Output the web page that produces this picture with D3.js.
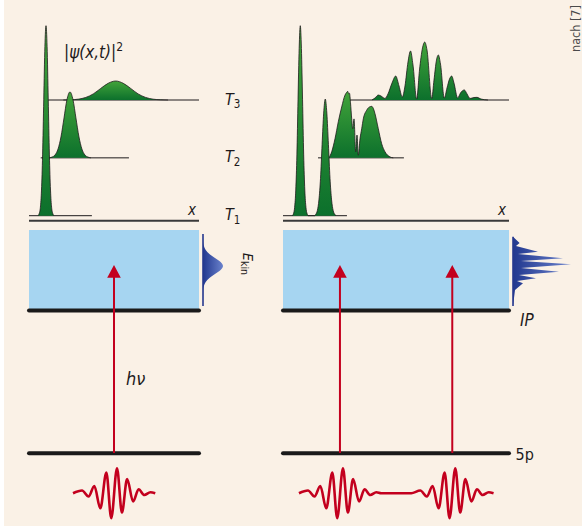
<!DOCTYPE html>
<html><head><meta charset="utf-8">
<script src="https://cdn.jsdelivr.net/npm/d3@7"></script>
<style>body{margin:0;background:#fff}svg{display:block}</style>
</head><body><svg id="c" width="582" height="528"></svg>
<script>
// ---------------- DATA ----------------
const timeSteps = ["T1", "T2", "T3"];
// wave packets |psi(x,t)|^2 : [position (a.u., 0..100 across panel), probability (a.u.)]
const leftT1 = [[5.3,0],[6.0,0.011],[6.7,0.044],[7.35,0.135],[8.0,0.32],[8.68,0.61],[9.35,0.89],[10,1],[10.65,0.89],[11.32,0.61],[12.0,0.32],[12.65,0.135],[13.3,0.044],[14.0,0.011],[14.7,0]];
const leftT2 = [[11.8,0],[13.5,0.004],[15.3,0.015],[17.1,0.047],[18.8,0.11],[20.6,0.21],[22.3,0.305],[24.1,0.347],[25.9,0.305],[27.6,0.21],[29.4,0.11],[31.1,0.047],[32.9,0.015],[34.7,0.004],[36.4,0]];
const leftT3 = [[20.2,0],[24.6,0.0011],[29,0.0044],[33.4,0.0135],[37.8,0.032],[42.2,0.061],[46.6,0.088],[51,0.1],[55.4,0.088],[59.8,0.061],[64.2,0.032],[68.6,0.0135],[73,0.0044],[77.4,0.0011],[81.8,0]];
const rightT1 = [[4.1,0],[4.65,0.011],[5.15,0.044],[5.65,0.135],[6.15,0.32],[6.65,0.61],[7.15,0.88],[7.65,1],[8.15,0.88],[8.65,0.61],[9.15,0.32],[9.65,0.135],[10.15,0.044],[10.65,0.011],[11.2,0],
  [14.0,0],[14.5,0.007],[15.2,0.027],[15.9,0.083],[16.6,0.196],[17.3,0.375],[18.0,0.54],[18.7,0.614],[19.4,0.54],[20.1,0.375],[20.8,0.196],[21.5,0.083],[22.2,0.027],[22.9,0.007],[23.4,0]];
const rightT2 = [[20.35,0],[21.55,0.032],[23.0,0.1],[24.47,0.19],[25.97,0.268],[27.43,0.33],[28.19,0.345],[28.63,0.35],[29.07,0.337],[29.42,0.34],[29.87,0.29],[30.4,0.205],[30.84,0.153],[31.42,0.205],[32.17,0.032],[32.74,0.12],[33.32,0.014],[34.07,0.1],[34.82,0.153],[35.53,0.205],[37.04,0.251],[38.27,0.268],[39.25,0.271],[40.04,0.258],[40.71,0.232],[42.17,0.153],[43.67,0.074],[45.13,0.032],[47.35,0.005],[48.8,0]];
const rightT3 = [[39.38,0],[40.71,0.0105],[42.17,0.026],[43.36,0.021],[45.13,0.008],[46.46,0.032],[48.23,0.089],[49.87,0.126],[51.33,0.074],[52.79,0.016],[53.98,0.074],[55.31,0.2],[56.42,0.258],[57.52,0.184],[59.16,0.005],[60.4,0.158],[61.73,0.274],[62.7,0.305],[63.72,0.263],[65.8,0.008],[66.81,0.105],[67.92,0.21],[68.72,0.237],[69.69,0.189],[71.37,0.0105],[72.57,0.063],[73.67,0.11],[74.65,0.126],[75.66,0.089],[77.3,0.0105],[78.54,0.037],[80.22,0.053],[81.42,0.032],[82.74,0.008],[84.51,0.013],[85.84,0.014],[87.61,0.005],[90.71,0]];
// extent of each time-step baseline [from, to] (a.u.)
const leftBaselines = [[0,37],[6.9,58.8],[11.2,100]];
const rightBaselines = [[0,28.3],[15.5,53.5],[29.65,100]];
// photoelectron spectra: [energy (a.u.), intensity (a.u.)]
const ekinSpectrum = [[9.375,0],[8.375,0.01],[7.875,0.045],[7.375,0.135],[6.875,0.32],[6.375,0.6],[5.875,0.88],[5.375,1],[4.875,0.88],[4.375,0.6],[3.875,0.32],[3.375,0.135],[2.875,0.045],[2.375,0.01],[0.375,0]];
const ipSpectrum = [[9.04,0],[8.25,0.33],[7.875,0.15],[7.16,1.25],[6.875,0.25],[6.34,2.5],[6.0,0.4],[5.59,2.9],[5.125,0.4],[4.66,2.3],[4.25,0.3],[3.84,1.15],[3.5,0.2],[3.21,0.5],[2.375,0.1],[0.375,0]];
// laser pulse: extrema [time (fs), field (a.u.)]
const pulseShape = [[-15,0],[-11.7,0.11],[-9.3,-0.13],[-7.2,0.29],[-5.0,-0.6],[-2.8,0.83],[-1.0,-1],[1.1,1],[2.9,-0.77],[4.8,0.57],[7.0,-0.33],[9.0,0.16],[11.1,-0.07],[13.3,0.04],[15.1,0]];
// transitions (position a.u.)
const leftTransitions = [50];
const rightTransitions = [25.2, 74.9];

// ---------------- DRAWING ----------------
const svg = d3.select("#c");
const FONT = "'Liberation Sans Narrow','DejaVu Sans Condensed','Roboto Condensed','Arial Narrow',sans-serif";
const RED = "#c3001e", INK = "#1e1b1c";
svg.append("rect").attr("x",4).attr("y",0).attr("width",578).attr("height",526).attr("fill","#faf1e6");

const defs = svg.append("defs");
const gg = defs.append("linearGradient").attr("id","green").attr("x1",0).attr("y1",0).attr("x2",0).attr("y2",1);
gg.append("stop").attr("offset","0%").attr("stop-color","#42a43a");
gg.append("stop").attr("offset","100%").attr("stop-color","#0c702c");
const bg = defs.append("linearGradient").attr("id","blue").attr("x1",0).attr("y1",0).attr("x2",1).attr("y2",0);
bg.append("stop").attr("offset","0%").attr("stop-color","#22388f");
bg.append("stop").attr("offset","100%").attr("stop-color","#6a82cc");

const rowY = d3.scalePoint().domain(timeSteps).range([215.7, 100]);
const amp = d3.scaleLinear().domain([0,1]).range([0,190]);
const eS = d3.scaleLinear().domain([0,10]).range([309,229]);
const specAmp = d3.scaleLinear().domain([0,1]).range([0,20]);
const fieldS = d3.scaleLinear().domain([-1,1]).range([25,-25]);

const panels = [
  {range:[29,199], packets:[leftT1,leftT2,leftT3], baselines:leftBaselines, spectrum:ekinSpectrum, specCurve:d3.curveMonotoneY, transitions:leftTransitions},
  {range:[283,509], packets:[rightT1,rightT2,rightT3], baselines:rightBaselines, spectrum:ipSpectrum, specCurve:d3.curveLinear, transitions:rightTransitions}
];

panels.forEach(p => {
  const x = d3.scaleLinear().domain([0,100]).range(p.range);
  const [x0, x1] = p.range;
  // continuum
  svg.append("rect").attr("x",x0).attr("y",230).attr("width",x1-x0).attr("height",79).attr("fill","#a6d5f1");
  // levels
  [310.6, 453.3].forEach(yy => svg.append("line").attr("x1",x0).attr("x2",x1).attr("y1",yy).attr("y2",yy)
     .attr("stroke","#1a1a1a").attr("stroke-width",4).attr("stroke-linecap","round"));
  // axis line
  svg.append("line").attr("x1",x0).attr("x2",x1).attr("y1",220.8).attr("y2",220.8).attr("stroke","#3a3a3a").attr("stroke-width",2);
  // spectrum
  const sx = x1 + 4;
  const sArea = d3.area().curve(p.specCurve).y(d=>eS(d[0])).x0(sx).x1(d=>sx+specAmp(d[1]));
  svg.append("path").attr("d", sArea(p.spectrum)).attr("fill","url(#blue)");
  svg.append("line").attr("x1",sx).attr("x2",sx).attr("y1",eS(p.spectrum[0][0])).attr("y2",eS(p.spectrum[p.spectrum.length-1][0]))
     .attr("stroke","#26398f").attr("stroke-width",1.6);
  // transitions (arrows)
  p.transitions.forEach(t => {
    const ax = x(t);
    svg.append("line").attr("x1",ax).attr("x2",ax).attr("y1",453).attr("y2",272).attr("stroke",RED).attr("stroke-width",2);
    svg.append("path").attr("d",`M${ax},265 L${ax+6.8},277.7 L${ax-6.8},277.7 Z`).attr("fill",RED);
  });
  // pulses
  let pts = [];
  p.transitions.forEach(t => {
    const ts = d3.scaleLinear().domain([-15,15]).range([x(t)-41, x(t)+41]);
    pulseShape.forEach(d => pts.push([ts(d[0]), 493.3 + fieldS(d[1])]));
  });
  svg.append("path").attr("d", d3.line().curve(d3.curveMonotoneX)(pts)).attr("fill","none")
     .attr("stroke",RED).attr("stroke-width",2.6).attr("stroke-linejoin","round");
  // wave packets, T3 first
  [2,1,0].forEach(i => {
    const base = rowY(timeSteps[i]);
    const b = p.baselines[i];
    svg.append("line").attr("x1",x(b[0])).attr("x2",x(b[1])).attr("y1",base).attr("y2",base).attr("stroke",INK).attr("stroke-width",1);
    const ar = d3.area().curve(d3.curveMonotoneX).x(d=>x(d[0])).y0(base).y1(d=>base-amp(d[1]));
    const ln = d3.line().curve(d3.curveMonotoneX).x(d=>x(d[0])).y(d=>base-amp(d[1]));
    svg.append("path").attr("d", ar(p.packets[i])).attr("fill","url(#green)");
    svg.append("path").attr("d", ln(p.packets[i])).attr("fill","none").attr("stroke",INK).attr("stroke-width",0.8);
  });
  // x label
  svg.append("text").attr("x",x1-11).attr("y",214.5).attr("font-family",FONT).attr("font-size",15)
     .attr("font-style","italic").attr("fill",INK).text("x");
});

// time labels
timeSteps.forEach(t => {
  const tx = svg.append("text").attr("x",225).attr("y",rowY(t)+4.5).attr("font-family",FONT).attr("fill",INK);
  tx.append("tspan").attr("font-size",16).attr("font-style","italic").text(t[0]);
  tx.append("tspan").attr("font-size",11.5).attr("dy",3.5).text(t.slice(1));
});

// |psi(x,t)|^2
const ps = svg.append("text").attr("x",64).attr("y",58).attr("font-family",FONT).attr("font-size",17).attr("fill",INK);
ps.append("tspan").attr("font-style","italic").text("|ψ(x,t)|");
ps.append("tspan").attr("font-size",12).attr("dy",-7).text("2");

// Ekin
const ek = svg.append("text").attr("transform","translate(243,253) rotate(90)").attr("font-family",FONT).attr("fill",INK);
ek.append("tspan").attr("font-size",14).attr("font-style","italic").text("E");
ek.append("tspan").attr("font-size",10.5).attr("dy",2).text("kin");

// other labels
svg.append("text").attr("x",126).attr("y",385).attr("font-family",FONT).attr("font-size",18).attr("font-style","italic").attr("fill",INK).text("hν");
svg.append("text").attr("x",520).attr("y",326).attr("font-family",FONT).attr("font-size",17).attr("font-style","italic").attr("fill",INK).text("IP");
svg.append("text").attr("x",515.5).attr("y",460).attr("font-family",FONT).attr("font-size",16).attr("fill",INK).text("5p");
svg.append("text").attr("transform","translate(580,52) rotate(-90)").attr("font-family",FONT).attr("font-size",12.5).attr("fill","#4a4a4a").text("nach [7]");
</script></body></html>
